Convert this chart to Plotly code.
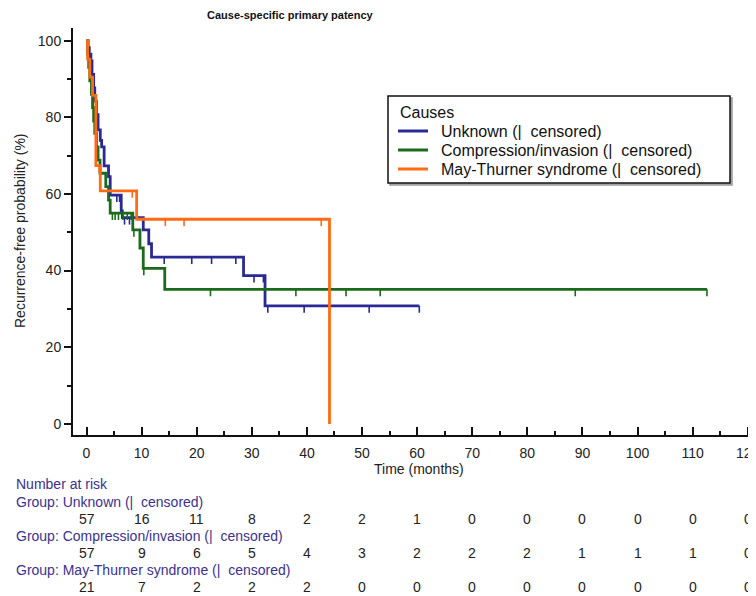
import plotly.graph_objects as go

# ---------------- data ----------------
groups = ["Unknown (|\u00a0 censored)", "Compression/invasion (|\u00a0 censored)", "May-Thurner syndrome (|\u00a0 censored)"]

unknown_t = [0, 0.3, 0.5, 0.8, 1.0, 1.3, 1.5, 1.8, 2.1, 2.5, 2.75, 3.2, 4.0, 4.3, 6.3, 6.5, 10.3, 11.3, 11.8, 28.5, 32.4]
unknown_s = [100, 98.2, 96.5, 94.7, 91.2, 87.7, 84.2, 80.7, 76.7, 74.0, 72.3, 67.3, 64.5, 59.7, 55.6, 53.8, 50.6, 47.0, 43.5, 38.7, 30.8]
unknown_end = 60.4
unknown_cens = [5.5, 6.0, 6.9, 7.8, 14.1, 19.1, 22.7, 27.1, 30.4, 32.1, 32.9, 39.5, 51.3, 60.4]

comp_t = [0, 0.2, 0.4, 0.6, 0.9, 1.1, 1.3, 1.5, 1.8, 2.1, 2.45, 3.5, 4.0, 4.3, 8.4, 9.7, 10.3, 14.2]
comp_s = [100, 96.5, 93.0, 89.5, 86.0, 82.5, 79.0, 75.8, 72.3, 68.8, 65.4, 61.9, 58.4, 55.0, 50.6, 45.9, 40.6, 35.1]
comp_end = 112.6
comp_cens = [4.7, 5.2, 5.8, 6.6, 7.4, 8.1, 8.6, 10.4, 22.5, 38.0, 47.1, 53.3, 88.7, 112.6]

mt_t = [0, 0.2, 0.6, 1.1, 1.7, 2.5, 9.1, 44.1]
mt_s = [100, 95.2, 90.5, 85.7, 67.4, 60.8, 53.4, 0]
mt_end = 44.1
mt_cens = [2.3, 8.3, 14.3, 17.7, 42.6]

risk_times = [0, 10, 20, 30, 40, 50, 60, 70, 80, 90, 100, 110, 120]
risk_unknown = [57, 16, 11, 8, 2, 2, 1, 0, 0, 0, 0, 0, 0]
risk_comp = [57, 9, 6, 5, 4, 3, 2, 2, 2, 1, 1, 1, 0]
risk_mt = [21, 7, 2, 2, 2, 0, 0, 0, 0, 0, 0, 0, 0]

x_ticks = [0, 10, 20, 30, 40, 50, 60, 70, 80, 90, 100, 110, 120]
y_ticks = [0, 20, 40, 60, 80, 100]

colors = ["#2a2a96", "#1b6b1b", "#ff6a14"]

# ---------------- figure ----------------
FONT = "Liberation Sans, Arial, sans-serif"
fig = go.Figure()

def step_at(ts, ss, c):
    v = ss[0]
    for t, s in zip(ts, ss):
        if t <= c:
            v = s
    return v

series = [
    (unknown_t, unknown_s, unknown_end, unknown_cens),
    (comp_t, comp_s, comp_end, comp_cens),
    (mt_t, mt_s, mt_end, mt_cens),
]

for i, (ts, ss, tend, cens) in enumerate(series):
    xs = list(ts)
    ys = list(ss)
    if tend > xs[-1]:
        xs.append(tend)
        ys.append(ss[-1])
    fig.add_trace(go.Scatter(
        x=xs, y=ys, mode="lines", line=dict(color=colors[i], width=2.8, shape="hv"),
        name=groups[i], showlegend=False, hoverinfo="skip"))
    cx, cy = [], []
    for c in cens:
        s = step_at(ts, ss, c)
        cx += [c, c, None]
        cy += [s, s - 1.8, None]
    fig.add_trace(go.Scatter(
        x=cx, y=cy, mode="lines", line=dict(color=colors[i], width=1.6),
        showlegend=False, hoverinfo="skip"))

# page offset: the browser body has an 8px margin
OFF = 8
W, H = 756 - OFF, 596 - OFF
PL, PR, PT, PB = 73, 756, 28, 435          # plot area in page pixels
L, R, T, B = PL - OFF, 0, PT - OFF, 596 - PB

def py(p):
    return (PB - p) / (PB - PT)

def px(p):
    return (p - PL) / (PR - PL)

ann = []
shapes = []
label_color = "#3b3190"
rows = [
    ("Number at risk", None, 484),
    ("Group: " + groups[0], risk_unknown, 502),
    ("Group: " + groups[1], risk_comp, 536),
    ("Group: " + groups[2], risk_mt, 570),
]
for text, vals, ypix in rows:
    ann.append(dict(text=text, x=px(14), y=py(ypix), xref="paper", yref="paper",
                    xanchor="left", yanchor="middle", showarrow=False,
                    font=dict(family=FONT, size=14, color=label_color)))
    if vals is not None:
        for t, v in zip(risk_times, vals):
            ann.append(dict(text=str(v), x=t, y=py(ypix + 17), xref="x", yref="paper",
                            xanchor="center", yanchor="middle", showarrow=False,
                            font=dict(family=FONT, size=14, color="#222222")))

ann.append(dict(text="<b>Cause-specific primary patency</b>", x=px(290), y=py(15),
                xref="paper", yref="paper", xanchor="center", yanchor="middle",
                showarrow=False,
                font=dict(family=FONT, size=11, color="#111111")))

ann.append(dict(text="Time (months)", x=px(419), y=py(469), xref="paper", yref="paper",
                xanchor="center", yanchor="middle", showarrow=False,
                font=dict(family=FONT, size=14, color="#222222")))
ann.append(dict(text="Recurrence-free probability (%)", x=px(20), y=py(231), xref="paper", yref="paper",
                xanchor="center", yanchor="middle", showarrow=False, textangle=-90,
                font=dict(family=FONT, size=14, color="#222222")))

# ---- legend box (drawn manually to match the reference's compact layout)
LX0, LX1, LY0, LY1 = 388, 730, 96, 183
shapes.append(dict(type="rect", xref="paper", yref="paper", layer="above",
                   x0=px(LX0 + 2), x1=px(LX1 + 2), y0=py(LY0 + 2), y1=py(LY1 + 2),
                   line=dict(color="#9a9a9a", width=1.5), fillcolor="#bbbbbb"))
shapes.append(dict(type="rect", xref="paper", yref="paper", layer="above",
                   x0=px(LX0), x1=px(LX1), y0=py(LY0), y1=py(LY1),
                   line=dict(color="#111111", width=1.5), fillcolor="white"))
ann.append(dict(text="Causes", x=px(398), y=py(112), xref="paper", yref="paper",
                xanchor="left", yanchor="middle", showarrow=False,
                font=dict(family=FONT, size=16, color="#111111")))
for i, ly in enumerate([131, 150, 169]):
    shapes.append(dict(type="line", xref="paper", yref="paper", layer="above",
                       x0=px(398), x1=px(428), y0=py(ly), y1=py(ly),
                       line=dict(color=colors[i], width=3)))
    ann.append(dict(text=groups[i], x=px(439), y=py(ly), xref="paper", yref="paper",
                    xanchor="left", yanchor="middle", showarrow=False,
                    font=dict(family=FONT, size=16, color="#111111")))

fig.update_layout(
    width=W, height=H,
    margin=dict(l=L, r=R, t=T, b=B, pad=0, autoexpand=False),
    paper_bgcolor="white", plot_bgcolor="white",
    font=dict(family=FONT, size=14, color="#222222"),
    annotations=ann, shapes=shapes, showlegend=False,
    xaxis=dict(
        range=[-2.45, 121.5], tickvals=x_ticks, ticktext=[str(v) for v in x_ticks],
        ticks="inside", ticklen=8, tickwidth=1.5, tickcolor="#111111",
        minor=dict(ticks="inside", ticklen=4, tickwidth=1.5, dtick=5, tick0=0, tickcolor="#111111", showgrid=False),
        showline=True, linecolor="#111111", linewidth=2,
        showgrid=False, zeroline=False, automargin=False,
        tickfont=dict(family=FONT, size=14, color="#222222"),
        ticklabelstandoff=4, ticklabeloverflow="allow",
    ),
    yaxis=dict(
        range=[-2.9, 103.3], tickvals=y_ticks, ticktext=[str(v) for v in y_ticks],
        ticks="outside", ticklen=7, tickwidth=1.5, tickcolor="#111111",
        minor=dict(ticks="outside", ticklen=4, tickwidth=1.5, dtick=10, tick0=0, tickcolor="#111111", showgrid=False),
        showline=True, linecolor="#111111", linewidth=2,
        showgrid=False, zeroline=False, automargin=False,
        tickfont=dict(family=FONT, size=14, color="#222222"),
    ),
)

fig.write_html(
    "out.html",
    post_script="document.documentElement.style.overflow='hidden';document.body.style.overflow='hidden';",
)
